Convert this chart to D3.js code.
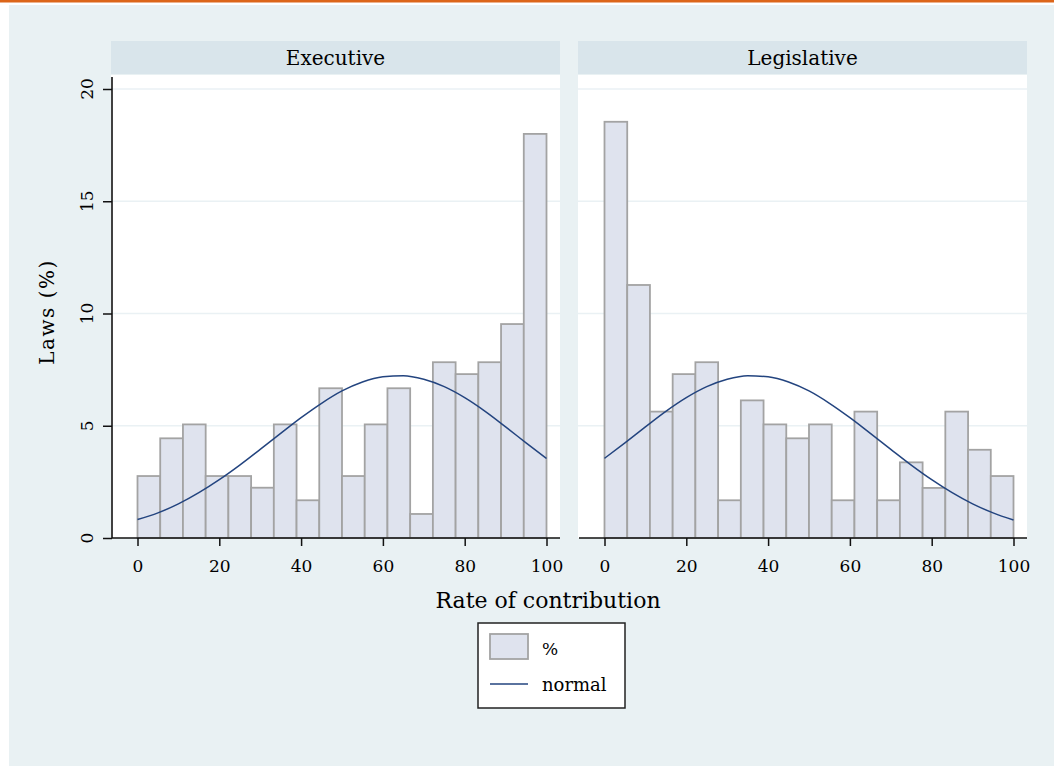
<!DOCTYPE html>
<html>
<head>
<meta charset="utf-8">
<script src="https://cdn.jsdelivr.net/npm/d3@7/dist/d3.min.js"></script>
<style>
body{margin:0;background:#fff;}
text{font-family:"DejaVu Serif",serif;fill:#000;}
</style>
</head>
<body>
<div id="chart"></div>
<script>
// histogram of rate of contribution, by initiator
var panels = ["Executive", "Legislative"];
var binWidth = 100 / 18;
var execPct = [2.76,4.44,5.06,2.76,2.76,2.24,5.06,1.68,6.67,2.76,5.06,6.67,1.07,7.83,7.30,7.83,9.53,18.0];
var legPct  = [18.54,11.27,5.63,7.30,7.83,1.68,6.13,5.06,4.44,5.06,1.68,5.63,1.68,3.37,2.23,5.63,3.93,2.76];

// normal curve, read at every 5 points of rate
var curveX = [0,5,10,15,20,25,30,35,40,45,50,55,60,65,70,75,80,85,90,95,100];
var execNormal = [0.82,1.12,1.52,2.02,2.60,3.25,3.95,4.66,5.36,6.00,6.55,6.95,7.18,7.23,7.07,6.74,6.25,5.64,4.95,4.24,3.54];
var legNormal  = [3.55,4.24,4.95,5.64,6.25,6.74,7.07,7.23,7.18,6.95,6.55,6.00,5.36,4.66,3.95,3.25,2.60,2.02,1.52,1.12,0.80];

var xTicks = [0,20,40,60,80,100];
var yTicks = [0,5,10,15,20];

var svg = d3.select("#chart").append("svg")
    .attr("width",1054)
    .attr("height",766);

svg.append("rect").attr("x",0).attr("y",0).attr("width",1054).attr("height",2.5).attr("fill","#dc6519");
svg.append("rect").attr("x",9).attr("y",5).attr("width",1045).attr("height",761).attr("fill","#e9f1f3");

var y = d3.scaleLinear().domain([0,20]).range([538,89]);

var panelLeft = [111, 578];
var panelW = 449;
var plotTop = 75;
var series = [execPct, legPct];
var normals = [execNormal, legNormal];

panels.forEach(function(name, p){
    var left = panelLeft[p];
    var x = d3.scaleLinear().domain([0,100]).range([left+26.5, left+435.5]);

    // strip
    svg.append("rect").attr("x",left).attr("y",41).attr("width",panelW).attr("height",33).attr("fill","#d9e5eb");
    svg.append("text").attr("x",left+panelW/2).attr("y",65)
        .attr("text-anchor","middle").style("font-size","20px").text(name);

    // plot region
    svg.append("rect").attr("x",left).attr("y",plotTop).attr("width",panelW).attr("height",538-plotTop).attr("fill","#fff");

    svg.selectAll(".grid"+p)
        .data(yTicks.slice(1))
        .enter()
        .append("line")
        .attr("x1",left).attr("x2",left+panelW)
        .attr("y1",function(d){return y(d);})
        .attr("y2",function(d){return y(d);})
        .style("stroke","#eaf1f4")
        .style("stroke-width",1.6);

    svg.selectAll(".bar"+p)
        .data(series[p])
        .enter()
        .append("rect")
        .attr("x",function(d,i){return x(i*binWidth);})
        .attr("y",function(d){return y(d);})
        .attr("width",function(d,i){return x((i+1)*binWidth)-x(i*binWidth);})
        .attr("height",function(d){return y(0)-y(d);})
        .style("fill","#dfe3ee")
        .style("stroke","#a3a3a3")
        .style("stroke-width",1.8);

    var line = d3.line()
        .x(function(d,i){return x(curveX[i]);})
        .y(function(d){return y(d);})
        .curve(d3.curveMonotoneX);

    svg.append("path")
        .attr("d",line(normals[p]))
        .style("fill","none")
        .style("stroke","#23447f")
        .style("stroke-width",1.5);

    // x axis
    var xa = svg.append("g").attr("transform","translate(0,538)")
        .call(d3.axisBottom(x).tickValues(xTicks).tickSize(8).tickPadding(14).tickSizeOuter(0));
    xa.select(".domain").remove();
    xa.selectAll("line").style("stroke","#111").style("stroke-width",1.5);
    xa.selectAll("text").style("font-size","17px").style("font-family","DejaVu Serif").style("fill","#000");
    svg.append("line").attr("x1",left+1).attr("x2",left+panelW).attr("y1",538).attr("y2",538)
        .style("stroke","#111").style("stroke-width",1.6);
});

// y axis on the first panel
var ya = svg.append("g").attr("transform","translate(112,0)")
    .call(d3.axisLeft(y).tickValues(yTicks).tickSize(9).tickSizeOuter(0));
ya.select(".domain").remove();
ya.selectAll("line").style("stroke","#111").style("stroke-width",1.5);
ya.selectAll("text").remove();
svg.append("line").attr("x1",112).attr("x2",112).attr("y1",77).attr("y2",538)
    .style("stroke","#111").style("stroke-width",1.6);
svg.selectAll(".ylab")
    .data(yTicks)
    .enter()
    .append("text")
    .attr("transform",function(d){return "translate(93,"+y(d)+") rotate(-90)";})
    .attr("text-anchor","middle")
    .style("font-size","17px")
    .text(function(d){return d;});

svg.append("text")
    .attr("transform","translate(54,312) rotate(-90)")
    .attr("text-anchor","middle")
    .style("font-size","20px")
    .style("letter-spacing","1.5px")
    .text("Laws (%)");

svg.append("text")
    .attr("x",548).attr("y",608)
    .attr("text-anchor","middle")
    .style("font-size","22px")
    .text("Rate of contribution");

// legend
var lg = svg.append("g");
lg.append("rect").attr("x",478).attr("y",623).attr("width",147).attr("height",85)
    .style("fill","#fff").style("stroke","#222").style("stroke-width",1.5);
lg.append("rect").attr("x",490).attr("y",634).attr("width",38).attr("height",25)
    .style("fill","#dfe3ee").style("stroke","#a3a3a3").style("stroke-width",1.8);
lg.append("text").attr("x",542).attr("y",655).style("font-size","17px").text("%");
lg.append("line").attr("x1",490).attr("x2",528).attr("y1",684).attr("y2",684)
    .style("stroke","#23447f").style("stroke-width",1.5);
lg.append("text").attr("x",542).attr("y",691).style("font-size","18px").text("normal");
</script>
</body>
</html>
